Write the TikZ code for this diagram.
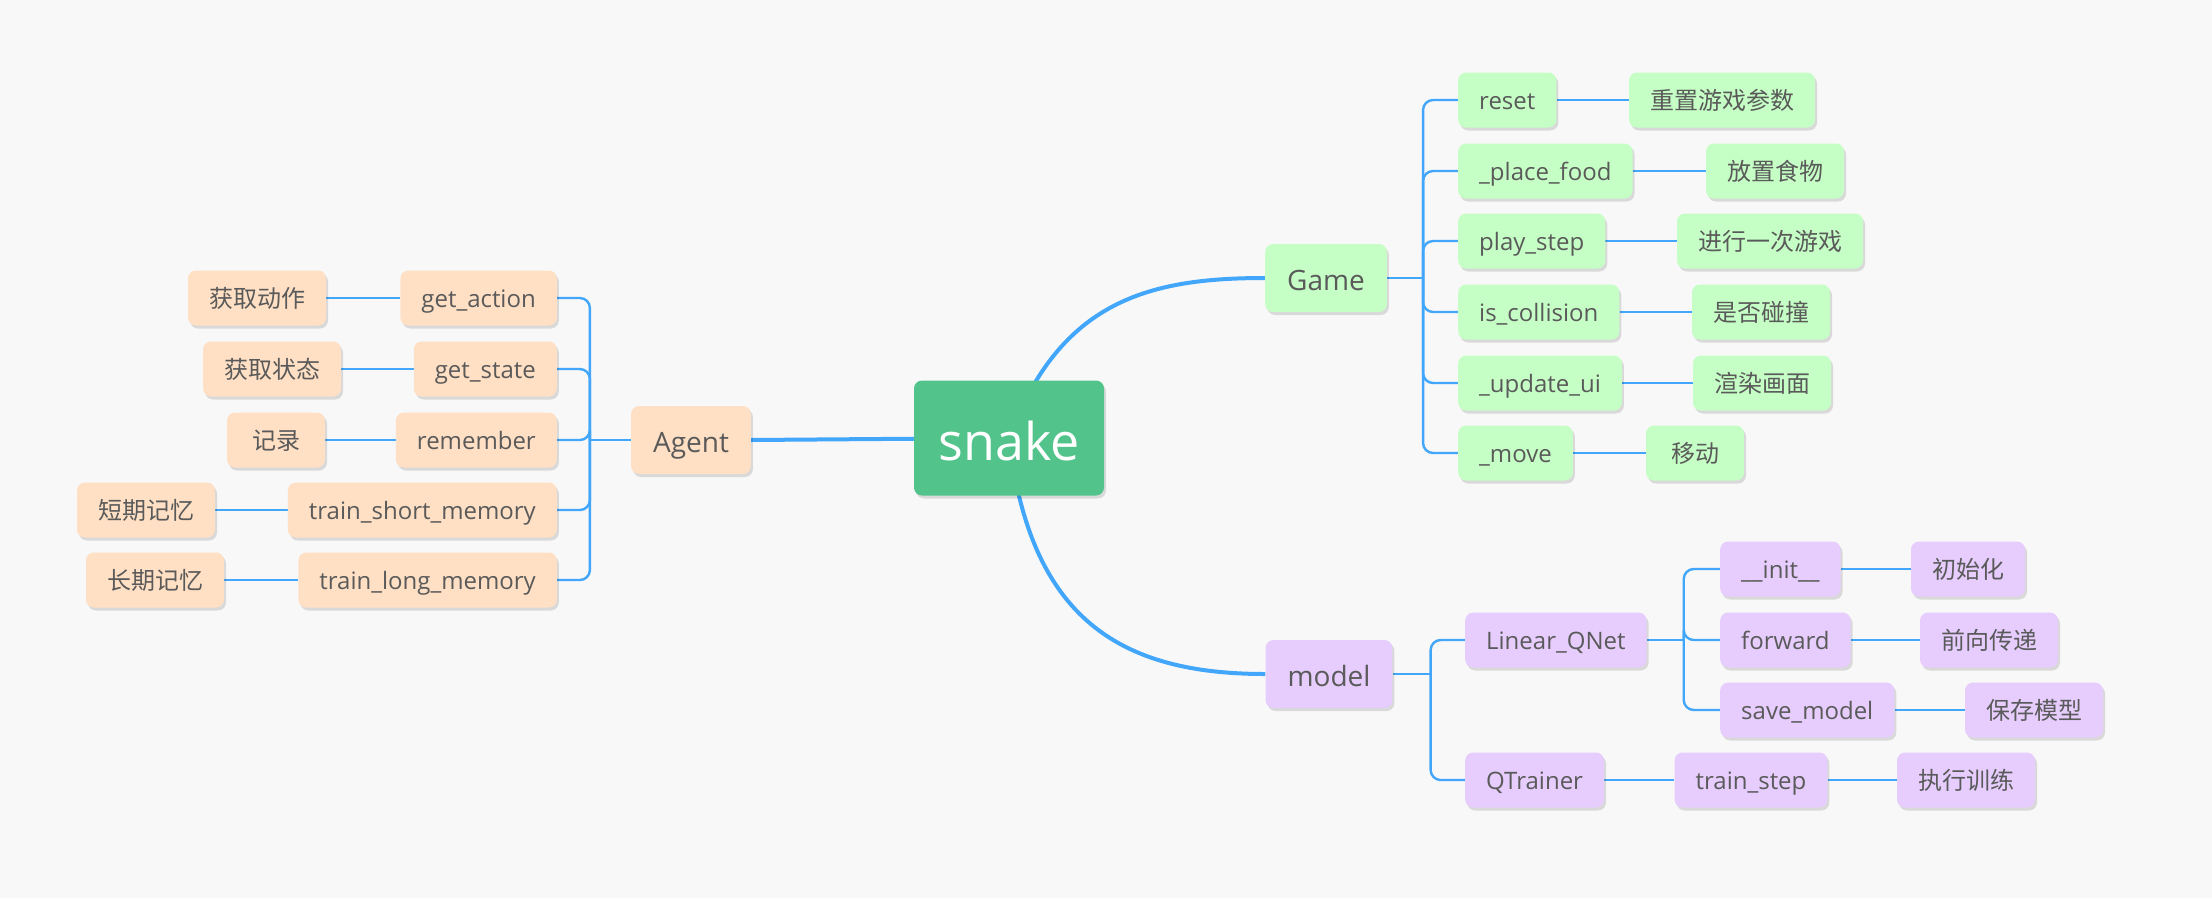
\documentclass[tikz,border=0pt]{standalone}
\usepackage{fontspec}
\setmainfont{Open Sans}
\newfontfamily\cjk{Noto Sans CJK SC}
\usetikzlibrary{backgrounds,shadows}
\definecolor{bgc}{RGB}{248,248,248}
\definecolor{linec}{RGB}{66,167,250}
\definecolor{rootc}{RGB}{82,196,139}
\definecolor{greenc}{RGB}{197,255,197}
\definecolor{peachc}{RGB}{255,224,196}
\definecolor{purplec}{RGB}{230,205,253}
\definecolor{txtc}{RGB}{90,90,90}
\tikzset{
  box/.style={rounded corners=8pt, text=txtc, inner ysep=0pt, text depth=0pt,
    drop shadow={shadow xshift=2pt, shadow yshift=-3pt, opacity=0.12, fill=black}},
  rootnode/.style={box, fill=rootc, text=white, minimum width=190pt, minimum height=115pt,
    font=\fontsize{52}{60}\selectfont, text height=44pt},
  lone/.style={box, minimum height=68pt, inner xsep=22pt, font=\fontsize{28}{32}\selectfont, text height=24pt},
  ltwo/.style={box, minimum height=55pt, minimum width=98pt, inner xsep=21pt, font=\fontsize{24}{28}\selectfont, text height=19pt},
  cn/.style={ltwo, font=\fontsize{24}{28}\selectfont\cjk},
  gr/.style={fill=greenc}, pe/.style={fill=peachc}, pu/.style={fill=purplec},
  mainline/.style={draw=linec, line width=4pt},
  subline/.style={draw=linec, line width=2.4pt},
  barline/.style={draw=linec, line width=2.4pt, rounded corners=10pt},
}
\begin{document}
\begin{tikzpicture}[x=1pt, y=-1pt]
\useasboundingbox (0,0) rectangle (2212,898);
% root
\node[rootnode] (snake) at (1009,438) {snake};
% level 1
\node[lone, gr] (game) at (1326,278) {Game};
\node[lone, pe] (agent) at (691,440) {Agent};
\node[lone, pu] (model) at (1329,674) {model};
% Game children
\node[ltwo, gr, anchor=west] (reset) at (1458,100) {reset};
\node[ltwo, gr, anchor=west] (place) at (1458,171) {\_place\_food};
\node[ltwo, gr, anchor=west] (play) at (1458,241) {play\_step};
\node[ltwo, gr, anchor=west] (coll) at (1458,312) {is\_collision};
\node[ltwo, gr, anchor=west] (upd) at (1458,383) {\_update\_ui};
\node[ltwo, gr, anchor=west] (move) at (1458,453) {\_move};
\node[cn, gr] (resetc) at (1722,100) {重置游戏参数};
\node[cn, gr] (placec) at (1775,171) {放置食物};
\node[cn, gr] (playc) at (1770,241) {进行一次游戏};
\node[cn, gr] (collc) at (1761,312) {是否碰撞};
\node[cn, gr] (updc) at (1762,383) {渲染画面};
\node[cn, gr] (movec) at (1695,453) {移动};
% Agent children
\node[ltwo, pe, anchor=east] (gact) at (557,298) {get\_action};
\node[ltwo, pe, anchor=east] (gsta) at (557,369) {get\_state};
\node[ltwo, pe, anchor=east] (rem) at (557,440) {remember};
\node[ltwo, pe, anchor=east] (tsm) at (557,510) {train\_short\_memory};
\node[ltwo, pe, anchor=east] (tlm) at (557,580) {train\_long\_memory};
\node[cn, pe] (gactc) at (257,298) {获取动作};
\node[cn, pe] (gstac) at (272,369) {获取状态};
\node[cn, pe] (remc) at (276,440) {记录};
\node[cn, pe] (tsmc) at (146,510) {短期记忆};
\node[cn, pe] (tlmc) at (155,580) {长期记忆};
% model children
\node[ltwo, pu, anchor=west] (lq) at (1465,640) {Linear\_QNet};
\node[ltwo, pu, anchor=west] (qt) at (1465,780) {QTrainer};
\node[ltwo, pu, anchor=west] (init) at (1720,569) {\_\_init\_\_};
\node[ltwo, pu, anchor=west] (fwd) at (1720,640) {forward};
\node[ltwo, pu, anchor=west] (save) at (1720,710) {save\_model};
\node[ltwo, pu] (tstep) at (1751,780) {train\_step};
\node[cn, pu] (initc) at (1968,569) {初始化};
\node[cn, pu] (fwdc) at (1989,640) {前向传递};
\node[cn, pu] (savec) at (2034,710) {保存模型};
\node[cn, pu] (tstepc) at (1966,780) {执行训练};

\begin{scope}[on background layer]
\fill[bgc] (0,0) rectangle (2212,898);
% main branches
\draw[mainline] (snake.center) .. controls ([shift={(51,-138)}]snake.center) and ([shift={(-115,0)}]game.west) .. (game.west);
\draw[mainline] (snake.center) .. controls ([shift={(21,182)}]snake.center) and ([shift={(-144,0)}]model.west) .. (model.west);
\draw[mainline] (snake.center) -- (agent.east);
% Game bar
\draw[subline] (game.east) -- ++(36,0);
\foreach \c in {reset,place,play,coll,upd,move}
  \draw[barline] ([xshift=36pt]game.east) |- (\c.west);
\draw[subline] (reset.east) -- (resetc.west);
\draw[subline] (place.east) -- (placec.west);
\draw[subline] (play.east) -- (playc.west);
\draw[subline] (coll.east) -- (collc.west);
\draw[subline] (upd.east) -- (updc.west);
\draw[subline] (move.east) -- (movec.west);
% Agent bar
\draw[subline] (agent.west) -- ++(-41,0);
\foreach \c in {gact,gsta,rem,tsm,tlm}
  \draw[barline] ([xshift=-41pt]agent.west) |- (\c.east);
\draw[subline] (gact.west) -- (gactc.east);
\draw[subline] (gsta.west) -- (gstac.east);
\draw[subline] (rem.west) -- (remc.east);
\draw[subline] (tsm.west) -- (tsmc.east);
\draw[subline] (tlm.west) -- (tlmc.east);
% model bar
\draw[subline] (model.east) -- ++(38,0);
\foreach \c in {lq,qt}
  \draw[barline] ([xshift=38pt]model.east) |- (\c.west);
\draw[subline] (lq.east) -- ++(37,0);
\foreach \c in {init,fwd,save}
  \draw[barline] ([xshift=37pt]lq.east) |- (\c.west);
\draw[subline] (init.east) -- (initc.west);
\draw[subline] (fwd.east) -- (fwdc.west);
\draw[subline] (save.east) -- (savec.west);
\draw[subline] (qt.east) -- (tstep.west);
\draw[subline] (tstep.east) -- (tstepc.west);
\end{scope}
\end{tikzpicture}
\end{document}
